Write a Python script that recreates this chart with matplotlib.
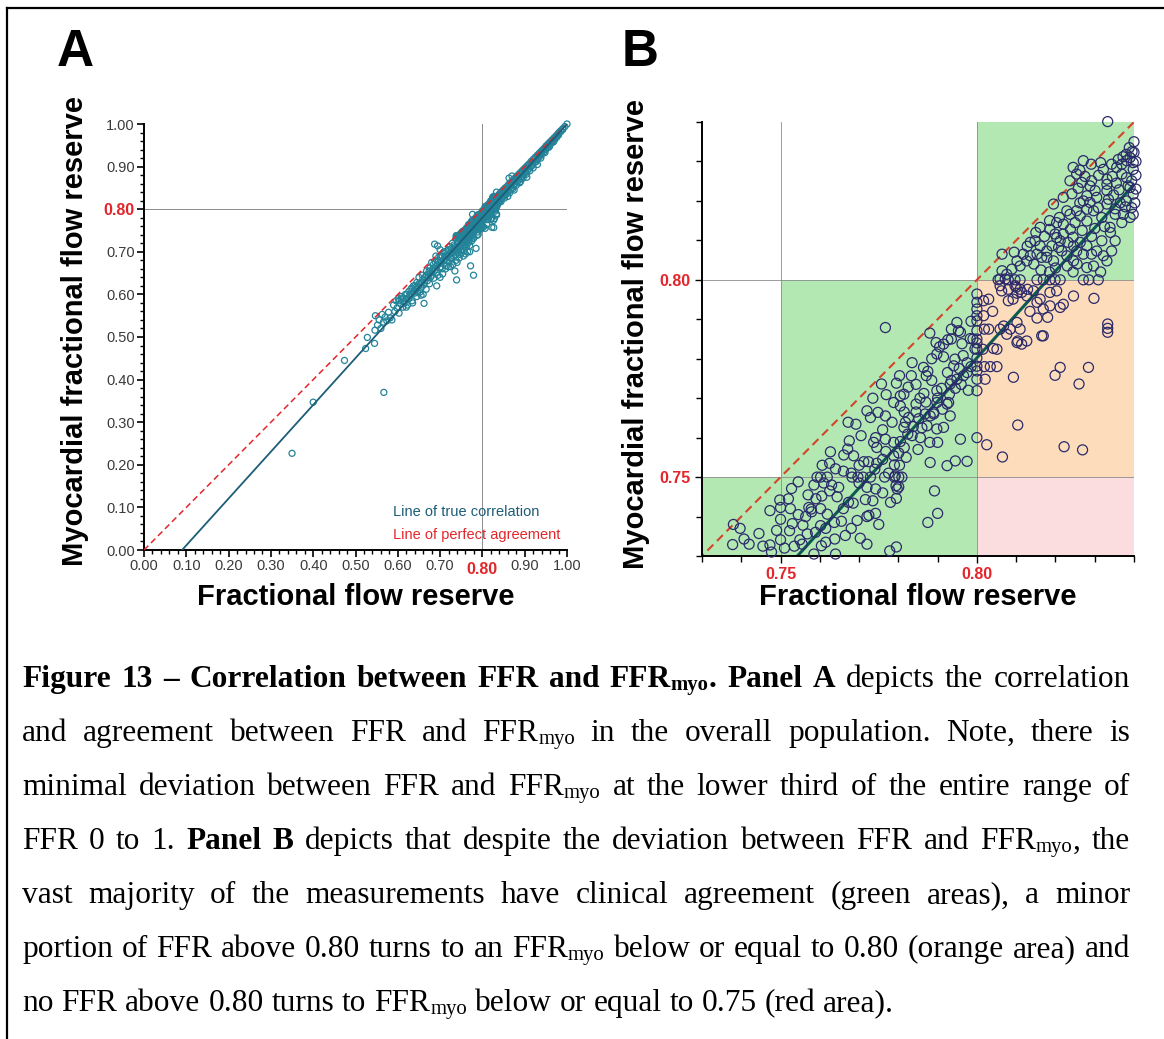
import matplotlib
matplotlib.use("Agg")
import matplotlib.pyplot as plt
from matplotlib.lines import Line2D
from matplotlib.patches import Rectangle
from matplotlib.ticker import FixedLocator, MultipleLocator, FuncFormatter

plt.rcParams["font.family"] = ["Liberation Sans", "DejaVu Sans"]

# ---- data (FFR, FFRmyo) ----
CUTOFF_HI = 0.80
CUTOFF_LO = 0.75
ZOOM_RANGE = (0.73, 0.84)

ref_line = [0.0, 1.0]                 # line of perfect agreement
reg_x = [0.09, 1.0]                   # line of true correlation
reg_y = [0.0, 1.0]

# points inside the zoomed window (panel B, also in panel A)
pts_low = [
    (0.738, 0.738), (0.7397, 0.737), (0.7407, 0.7343), (0.7378, 0.7329), (0.7445, 0.7357),
    (0.7473, 0.7415), (0.7498, 0.7442), (0.7500, 0.7423), (0.7473, 0.7328), (0.7477, 0.7310),
    (0.7500, 0.7393), (0.7500, 0.7341), (0.7528, 0.7471), (0.7525, 0.7420), (0.7530, 0.7382),
    (0.7523, 0.7364), (0.7549, 0.7341), (0.7557, 0.7378), (0.7572, 0.7423), (0.7578, 0.7419),
    (0.7579, 0.7412), (0.7564, 0.7400), (0.7568, 0.7356), (0.7589, 0.7360), (0.7602, 0.7420),
    (0.7602, 0.7377), (0.7604, 0.7326), (0.7619, 0.7406), (0.7637, 0.7385), (0.7638, 0.7343),
    (0.7644, 0.7450), (0.7648, 0.7474), (0.7655, 0.7388), (0.7673, 0.7436), (0.7685, 0.7434),
    (0.7703, 0.7345), (0.7720, 0.7400), (0.7725, 0.7403), (0.7742, 0.7408), (0.7716, 0.7443),
    (0.7720, 0.7474), (0.7742, 0.7470), (0.7778, 0.7313), (0.7795, 0.7323), (0.7795, 0.7446),
    (0.7797, 0.7470), (0.7801, 0.7475), (0.7780, 0.7436), (0.7875, 0.7385), (0.7892, 0.7465),
    (0.7900, 0.7408), (0.7535, 0.7325), (0.7555, 0.7330), (0.7615, 0.7335), (0.7585, 0.7305),
    (0.7665, 0.7352), (0.7605, 0.7452), (0.7570, 0.7455), (0.7585, 0.7480), (0.7545, 0.7488),
    (0.7625, 0.7465), (0.7700, 0.7485), (0.7420, 0.7330), (0.7455, 0.7325), (0.7510, 0.7320),
    (0.7520, 0.7445), (0.7490, 0.7365), (0.7545, 0.7405), (0.7590, 0.7445), (0.7615, 0.7370),
    (0.7660, 0.7420), (0.7695, 0.7390), (0.7680, 0.7370), (0.7735, 0.7440), (0.7640, 0.7305),
    (0.7720, 0.7330), (0.7750, 0.7380), (0.7760, 0.7460),
]
row_075_x = [0.7593, 0.7602, 0.7619, 0.7682, 0.7697, 0.7710, 0.7729, 0.7765, 0.7790, 0.7801, 0.7809]
pts_mid = [
    (0.7627, 0.7564), (0.7671, 0.7571), (0.7661, 0.7556), (0.7686, 0.7554), (0.7625, 0.7535),
    (0.7640, 0.7521), (0.7606, 0.7530), (0.7675, 0.7592), (0.7712, 0.7539), (0.7724, 0.7539),
    (0.7737, 0.7588), (0.7742, 0.7600), (0.7767, 0.7596), (0.7748, 0.7664), (0.7720, 0.7668),
    (0.7729, 0.7651), (0.7767, 0.7655), (0.7784, 0.7639), (0.7788, 0.7588), (0.7788, 0.7554),
    (0.7790, 0.7531), (0.7801, 0.7561), (0.7803, 0.7530), (0.7794, 0.7478), (0.7792, 0.7503),
    (0.7818, 0.7639), (0.7826, 0.7651), (0.7814, 0.7626), (0.7824, 0.7609), (0.7856, 0.7600),
    (0.7880, 0.7588), (0.7900, 0.7588), (0.7881, 0.7537), (0.7945, 0.7541), (0.7975, 0.7540),
    (0.7924, 0.7529), (0.7958, 0.7596), (0.7881, 0.7655), (0.7890, 0.7660), (0.7672, 0.7639),
    (0.7692, 0.7634), (0.7768, 0.7565), (0.7745, 0.7535), (0.7705, 0.7605), (0.7835, 0.7605),
    (0.7860, 0.7625), (0.7845, 0.7665), (0.7850, 0.7570), (0.7815, 0.7575), (0.7898, 0.7622),
    (0.7915, 0.7626), (0.7932, 0.7655), (0.7740, 0.7520), (0.7760, 0.7545), (0.7775, 0.7510),
    (0.7805, 0.7590), (0.7820, 0.7550), (0.7838, 0.7628), (0.7852, 0.7648), (0.7868, 0.7660),
    (0.7873, 0.7630), (0.7912, 0.7672), (0.7760, 0.7620), (0.7745, 0.7575), (0.7700, 0.7530),
    (0.7680, 0.7510), (0.7660, 0.7515), (0.7630, 0.7480), (0.7610, 0.7485),
]
pts_upper = [
    (0.7924, 0.7685), (0.7898, 0.7689), (0.7757, 0.7736), (0.7769, 0.7709), (0.7788, 0.7689),
    (0.7805, 0.7706), (0.7814, 0.7710), (0.7803, 0.7757), (0.7833, 0.7757), (0.7835, 0.7790),
    (0.7864, 0.7778), (0.7875, 0.7768), (0.7871, 0.7757), (0.7880, 0.7865), (0.7896, 0.7841),
    (0.7898, 0.7812), (0.7898, 0.7719), (0.7926, 0.7848), (0.7935, 0.7850), (0.7941, 0.7782),
    (0.7944, 0.7799), (0.7949, 0.7892), (0.7953, 0.7871), (0.7983, 0.7851), (0.7767, 0.7879),
    (0.7845, 0.7735), (0.7855, 0.7700), (0.7885, 0.7745), (0.7910, 0.7725), (0.7925, 0.7765),
    (0.7935, 0.7745), (0.7955, 0.7775), (0.7965, 0.7808), (0.7975, 0.7765), (0.7915, 0.7805),
    (0.7905, 0.7830), (0.7935, 0.7875), (0.7962, 0.7838), (0.7985, 0.7895), (0.7885, 0.7800),
    (0.7825, 0.7728), (0.7795, 0.7738), (0.7735, 0.7700), (0.7865, 0.7712), (0.7995, 0.7825),
    (0.7958, 0.7867), (0.7915, 0.7837), (0.7890, 0.7664), (0.7928, 0.7689), (0.7932, 0.7736),
    (0.7949, 0.7748), (0.7966, 0.7757), (0.7900, 0.7700), (0.7930, 0.7710), (0.7945, 0.7725),
    (0.7960, 0.7735), (0.7975, 0.7790), (0.7985, 0.7780), (0.7978, 0.7720), (0.7990, 0.7850),
    (0.7870, 0.7690), (0.7845, 0.7685), (0.7815, 0.7665), (0.7805, 0.7680),
]
stack_080_y = [0.7964, 0.7943, 0.7926, 0.7909, 0.7896, 0.7871, 0.7850, 0.7840, 0.7824,
               0.7802, 0.7781, 0.7769, 0.7748, 0.7719, 0.7600]
pts_orange = [
    (0.8017, 0.7947), (0.8030, 0.7951), (0.8019, 0.7875), (0.8030, 0.7875), (0.8015, 0.7824),
    (0.8019, 0.7780), (0.8034, 0.7780), (0.8051, 0.7780), (0.8021, 0.7748), (0.8042, 0.7826),
    (0.8059, 0.7985), (0.8063, 0.7972), (0.8092, 0.7951), (0.8097, 0.7985), (0.8102, 0.7966),
    (0.8110, 0.7976), (0.8129, 0.7976), (0.8068, 0.7883), (0.8085, 0.7875), (0.8102, 0.7892),
    (0.8110, 0.7875), (0.8153, 0.7903), (0.8165, 0.7858), (0.8102, 0.7841), (0.8114, 0.7837),
    (0.8161, 0.7951), (0.8169, 0.7926), (0.8212, 0.7930), (0.8246, 0.7959), (0.8298, 0.7953),
    (0.8212, 0.7778), (0.8199, 0.7758), (0.8284, 0.7778), (0.8260, 0.7736), (0.8093, 0.7753),
    (0.8104, 0.7632), (0.8222, 0.7577), (0.8269, 0.7569), (0.8065, 0.7551), (0.8025, 0.7582),
    (0.8333, 0.7888), (0.8333, 0.7877), (0.8333, 0.7867), (0.8080, 0.7947), (0.8127, 0.7959),
    (0.8153, 0.7943), (0.8186, 0.7934), (0.8220, 0.7938), (0.8059, 0.7875), (0.8076, 0.7862),
    (0.8169, 0.7858), (0.8051, 0.7824), (0.8127, 0.7845), (0.8104, 0.7845), (0.8080, 0.7976),
    (0.8100, 0.7981), (0.8114, 0.7968), (0.8144, 0.7972), (0.8186, 0.7968), (0.8203, 0.7972),
    (0.8017, 0.7909), (0.8040, 0.7920), (0.8135, 0.7920), (0.8180, 0.7905),
]
row_080_x = [0.8054, 0.8080, 0.8097, 0.8110, 0.8153, 0.8169, 0.8186, 0.8199, 0.8212,
             0.8271, 0.8285, 0.8309]
pts_green_top = [
    (0.8333, 0.8401), (0.8400, 0.8350), (0.8388, 0.8335), (0.8400, 0.8323), (0.8380, 0.8318),
    (0.8390, 0.8310), (0.8381, 0.8302), (0.8398, 0.8297), (0.8369, 0.8293), (0.8398, 0.8280),
    (0.8291, 0.8293), (0.8315, 0.8297), (0.8343, 0.8293), (0.8356, 0.8285), (0.8369, 0.8268),
    (0.8381, 0.8259), (0.8394, 0.8251), (0.8390, 0.8234), (0.8398, 0.8217), (0.8381, 0.8200),
    (0.8394, 0.8183), (0.8398, 0.8166), (0.8373, 0.8166), (0.8369, 0.8145), (0.8390, 0.8158),
    (0.8331, 0.8255), (0.8331, 0.8242), (0.8331, 0.8226), (0.8335, 0.8204), (0.8331, 0.8192),
    (0.8292, 0.8251), (0.8288, 0.8238), (0.8301, 0.8226), (0.8305, 0.8209), (0.8288, 0.8196),
    (0.8280, 0.8213), (0.8267, 0.8247), (0.8271, 0.8200), (0.8280, 0.8179), (0.8297, 0.8175),
    (0.8309, 0.8183), (0.8254, 0.8175), (0.8263, 0.8162), (0.8280, 0.8149), (0.8250, 0.8145),
    (0.8237, 0.8166), (0.8229, 0.8175), (0.8220, 0.8141), (0.8203, 0.8145), (0.8220, 0.8116),
    (0.8203, 0.8107), (0.8186, 0.8128), (0.8199, 0.8116), (0.8212, 0.8099), (0.8208, 0.8082),
    (0.8191, 0.8086), (0.8178, 0.8073), (0.8161, 0.8133), (0.8136, 0.8095), (0.8148, 0.8099),
    (0.8161, 0.8086), (0.8153, 0.8065), (0.8136, 0.8061), (0.8127, 0.8048), (0.8110, 0.8035),
    (0.8102, 0.8048), (0.8089, 0.8027), (0.8076, 0.8014), (0.8064, 0.8023), (0.8059, 0.8002),
    (0.8072, 0.8002), (0.8165, 0.8057), (0.8178, 0.8057), (0.8195, 0.8048), (0.8216, 0.8073),
    (0.8229, 0.8061), (0.8246, 0.8086), (0.8263, 0.8095), (0.8280, 0.8086), (0.8292, 0.8065),
    (0.8305, 0.8073), (0.8280, 0.8031), (0.8297, 0.8035), (0.8322, 0.8061), (0.8331, 0.8048),
    (0.8352, 0.8099), (0.8343, 0.8073), (0.8318, 0.8099), (0.8254, 0.8073), (0.8271, 0.8065),
    (0.8246, 0.8048), (0.8064, 0.8065), (0.8339, 0.8133), (0.8352, 0.8166), (0.8271, 0.8302),
    (0.8254, 0.8268), (0.8237, 0.8251), (0.8220, 0.8209), (0.8195, 0.8192),
    (0.8245, 0.8285), (0.8262, 0.8278), (0.8275, 0.8262), (0.8258, 0.8232), (0.8242, 0.8218),
    (0.8262, 0.8195), (0.8310, 0.8265), (0.8322, 0.8280), (0.8345, 0.8262), (0.8355, 0.8245),
    (0.8362, 0.8228), (0.8348, 0.8215), (0.8365, 0.8195), (0.8352, 0.8180), (0.8378, 0.8185),
    (0.8385, 0.8238), (0.8372, 0.8312), (0.8360, 0.8305), (0.8395, 0.8325), (0.8405, 0.8300),
    (0.8405, 0.8265), (0.8405, 0.8230), (0.8402, 0.8195), (0.8318, 0.8158), (0.8325, 0.8135),
    (0.8340, 0.8120), (0.8300, 0.8130), (0.8292, 0.8110), (0.8268, 0.8125), (0.8245, 0.8108),
    (0.8232, 0.8095), (0.8238, 0.8128), (0.8210, 0.8158), (0.8185, 0.8150), (0.8172, 0.8110),
    (0.8150, 0.8120), (0.8128, 0.8085), (0.8118, 0.8065), (0.8095, 0.8070), (0.8145, 0.8040),
    (0.8163, 0.8025), (0.8185, 0.8020), (0.8200, 0.8030), (0.8230, 0.8035), (0.8255, 0.8040),
    (0.8315, 0.8020), (0.8245, 0.8020),
]

# points outside the zoomed window (panel A only)
pts_high = [
    (0.842, 0.838), (0.842, 0.831), (0.842, 0.822), (0.846, 0.842), (0.846, 0.834), (0.846, 0.826),
    (0.850, 0.846), (0.850, 0.838), (0.850, 0.830), (0.854, 0.850), (0.854, 0.843), (0.854, 0.833),
    (0.858, 0.853), (0.858, 0.847), (0.858, 0.839), (0.862, 0.858), (0.862, 0.851), (0.862, 0.842),
    (0.866, 0.862), (0.866, 0.856), (0.866, 0.847), (0.870, 0.866), (0.870, 0.860), (0.870, 0.851),
    (0.874, 0.870), (0.874, 0.864), (0.874, 0.855), (0.878, 0.874), (0.878, 0.869), (0.878, 0.860),
    (0.882, 0.878), (0.882, 0.873), (0.882, 0.864), (0.886, 0.882), (0.886, 0.877), (0.886, 0.868),
    (0.890, 0.886), (0.890, 0.881), (0.890, 0.872), (0.894, 0.890), (0.894, 0.886), (0.894, 0.877),
    (0.898, 0.894), (0.898, 0.890), (0.898, 0.881), (0.902, 0.898), (0.902, 0.894), (0.902, 0.886),
    (0.906, 0.902), (0.906, 0.899), (0.906, 0.890), (0.910, 0.906), (0.910, 0.903), (0.910, 0.895),
    (0.915, 0.912), (0.915, 0.908), (0.915, 0.900), (0.920, 0.917), (0.920, 0.913), (0.920, 0.906),
    (0.925, 0.922), (0.925, 0.919), (0.925, 0.911), (0.930, 0.927), (0.930, 0.924), (0.930, 0.917),
    (0.935, 0.932), (0.935, 0.929), (0.935, 0.923), (0.940, 0.937), (0.940, 0.934), (0.940, 0.928),
    (0.945, 0.942), (0.945, 0.940), (0.945, 0.934), (0.950, 0.948), (0.950, 0.945), (0.950, 0.940),
    (0.955, 0.953), (0.955, 0.950), (0.955, 0.945), (0.960, 0.958), (0.960, 0.955), (0.960, 0.951),
    (0.965, 0.963), (0.965, 0.961), (0.965, 0.957), (0.970, 0.968), (0.970, 0.966), (0.970, 0.962),
    (0.975, 0.973), (0.975, 0.972), (0.975, 0.968), (0.980, 0.979), (0.980, 0.977), (0.980, 0.974),
    (0.985, 0.984), (0.985, 0.982), (0.990, 0.989), (0.990, 0.987), (0.995, 0.994), (1.000, 1.000),
    (0.860, 0.830), (0.875, 0.845), (0.890, 0.865), (0.905, 0.875), (0.920, 0.897), (0.930, 0.905),
    (0.863, 0.873), (0.870, 0.878), (0.844, 0.818), (0.852, 0.826), (0.856, 0.836), (0.864, 0.838),
    (0.872, 0.848), (0.880, 0.856), (0.888, 0.862), (0.896, 0.873), (0.904, 0.882), (0.912, 0.890),
    (0.918, 0.903), (0.928, 0.912), (0.938, 0.920), (0.948, 0.933), (0.958, 0.946), (0.968, 0.958),
]
pts_lowrange = [
    (0.350, 0.227), (0.400, 0.347), (0.474, 0.445), (0.524, 0.473), (0.528, 0.499), (0.545, 0.485),
    (0.546, 0.516), (0.567, 0.370), (0.547, 0.550), (0.552, 0.528), (0.556, 0.540), (0.560, 0.520),
    (0.563, 0.553), (0.566, 0.535), (0.570, 0.547), (0.574, 0.538), (0.578, 0.558), (0.582, 0.545),
    (0.586, 0.540), (0.590, 0.575), (0.593, 0.560), (0.596, 0.585), (0.598, 0.568), (0.601, 0.590),
    (0.603, 0.556), (0.606, 0.578), (0.609, 0.595), (0.612, 0.570), (0.615, 0.583), (0.618, 0.600),
    (0.620, 0.590), (0.623, 0.575), (0.626, 0.607), (0.628, 0.596), (0.631, 0.612), (0.634, 0.585),
    (0.637, 0.620), (0.640, 0.603), (0.642, 0.612), (0.645, 0.628), (0.648, 0.618), (0.650, 0.640),
    (0.653, 0.606), (0.656, 0.627), (0.658, 0.645), (0.661, 0.622), (0.662, 0.579), (0.665, 0.640),
    (0.668, 0.655), (0.670, 0.632), (0.673, 0.648), (0.676, 0.662), (0.678, 0.641), (0.681, 0.655),
    (0.684, 0.670), (0.687, 0.718), (0.690, 0.665), (0.692, 0.620), (0.694, 0.714), (0.696, 0.680),
    (0.699, 0.662), (0.701, 0.690), (0.704, 0.676), (0.706, 0.648), (0.708, 0.697), (0.711, 0.682),
    (0.713, 0.660), (0.716, 0.702), (0.718, 0.690), (0.721, 0.676), (0.723, 0.712), (0.726, 0.698),
    (0.728, 0.684), (0.729, 0.720), (0.733, 0.716), (0.736, 0.702), (0.739, 0.634), (0.741, 0.718),
    (0.744, 0.708), (0.747, 0.694), (0.750, 0.724), (0.753, 0.714), (0.757, 0.703), (0.760, 0.727),
    (0.764, 0.718), (0.772, 0.667), (0.779, 0.645), (0.785, 0.708), (0.768, 0.722), (0.775, 0.726),
    (0.732, 0.690), (0.738, 0.680), (0.745, 0.685), (0.700, 0.640), (0.715, 0.667), (0.725, 0.665),
    (0.735, 0.655), (0.755, 0.690), (0.765, 0.700),
    (0.731, 0.705), (0.734, 0.712), (0.737, 0.709), (0.740, 0.704), (0.743, 0.722), (0.746, 0.715),
    (0.749, 0.712), (0.752, 0.704), (0.755, 0.722), (0.758, 0.716), (0.742, 0.697), (0.748, 0.703),
    (0.751, 0.698), (0.736, 0.693), (0.730, 0.698), (0.762, 0.712), (0.766, 0.726), (0.770, 0.715),
    (0.652, 0.625), (0.655, 0.615), (0.659, 0.635), (0.663, 0.628), (0.667, 0.645), (0.671, 0.640),
    (0.674, 0.655), (0.677, 0.650), (0.680, 0.645), (0.683, 0.660), (0.686, 0.655), (0.689, 0.675),
    (0.691, 0.652), (0.694, 0.670), (0.697, 0.688), (0.700, 0.675), (0.702, 0.665), (0.705, 0.690),
    (0.708, 0.680), (0.710, 0.700), (0.713, 0.690), (0.716, 0.680), (0.719, 0.705), (0.722, 0.695),
    (0.724, 0.685), (0.727, 0.708), (0.660, 0.600), (0.667, 0.612), (0.675, 0.625), (0.685, 0.638),
    (0.695, 0.645), (0.705, 0.660), (0.720, 0.665), (0.730, 0.670), (0.740, 0.675), (0.760, 0.695),
    (0.770, 0.700), (0.700, 0.705), (0.690, 0.690), (0.680, 0.675), (0.603, 0.585), (0.608, 0.588),
    (0.612, 0.592), (0.617, 0.580), (0.621, 0.600), (0.626, 0.590), (0.630, 0.600), (0.633, 0.615),
    (0.637, 0.605), (0.641, 0.620), (0.644, 0.612), (0.647, 0.605), (0.650, 0.625), (0.620, 0.570),
    (0.635, 0.580), (0.645, 0.595), (0.655, 0.598),
]

x_ticks_a = [0.0, 0.1, 0.2, 0.3, 0.4, 0.5, 0.6, 0.7, 0.8, 0.9, 1.0]
b_ticks = [0.75, 0.80]

CAPTION_LINES = [
    [("Figure 13 – Correlation between FFR and FFR", "b"), ("myo", "bs"), (". Panel A", "b"),
     (" depicts the correlation", "r")],
    [("and agreement between FFR and FFR", "r"), ("myo", "s"), (" in the overall population. Note, there is", "r")],
    [("minimal deviation between FFR and FFR", "r"), ("myo", "s"), (" at the lower third of the entire range of", "r")],
    [("FFR 0 to 1. ", "r"), ("Panel B", "b"), (" depicts that despite the deviation between FFR and FFR", "r"),
     ("myo", "s"), (", the", "r")],
    [("vast majority of the measurements have clinical agreement (green areas), a minor", "r")],
    [("portion of FFR above 0.80 turns to an FFR", "r"), ("myo", "s"), (" below or equal to 0.80 (orange area) and", "r")],
    [("no FFR above 0.80 turns to FFR", "r"), ("myo", "s"), (" below or equal to 0.75 (red area).", "r")],
]

RED = "#e3262b"
TEAL = "#238499"
TEAL_LINE = "#1c5d78"
NAVY = "#2b2a6a"
GREEN_LINE = "#0d5a52"
GREEN = "#b3e8b3"
ORANGE = "#fcdcbb"
PINK = "#fbdde0"
GRID = "#8c8c8c"

W, H = 1164, 1039


def box(left, top, right, bottom):
    return [left / W, 1 - bottom / H, (right - left) / W, (bottom - top) / H]


def window_points():
    pts = pts_low + pts_mid + pts_upper + pts_orange + pts_green_top
    pts += [(x, CUTOFF_LO) for x in row_075_x]
    pts += [(CUTOFF_HI, y) for y in stack_080_y]
    pts += [(x, CUTOFF_HI) for x in row_080_x]
    xs, ys = zip(*pts)
    return list(xs), list(ys)


def panel_a(ax, wx, wy):
    ox, oy = zip(*(pts_high + pts_lowrange))
    ax.scatter(list(ox) + wx, list(oy) + wy, s=19, facecolors="none", edgecolors=TEAL,
               linewidths=0.9, clip_on=False, zorder=2)
    ax.axvline(CUTOFF_HI, color=GRID, lw=0.7, zorder=1)
    ax.axhline(CUTOFF_HI, color=GRID, lw=0.7, zorder=1)
    ax.plot(ref_line, ref_line, color=RED, lw=1.1, ls=(0, (4, 2.5)), zorder=3)
    ax.plot(reg_x, reg_y, color=TEAL_LINE, lw=1.3, zorder=3)
    ax.set_xlim(0, 1)
    ax.set_ylim(0, 1)
    for side in ("top", "right"):
        ax.spines[side].set_visible(False)
    for side in ("left", "bottom"):
        ax.spines[side].set_linewidth(1.4)
    ax.xaxis.set_major_locator(FixedLocator(x_ticks_a))
    ax.yaxis.set_major_locator(FixedLocator(x_ticks_a))
    ax.xaxis.set_minor_locator(MultipleLocator(0.02))
    ax.yaxis.set_minor_locator(MultipleLocator(0.02))
    ax.xaxis.set_major_formatter(FuncFormatter(lambda v, _: "" if abs(v - CUTOFF_HI) < 1e-9 else f"{v:.2f}"))
    ax.yaxis.set_major_formatter(FuncFormatter(lambda v, _: f"{v:.2f}"))
    ax.tick_params(which="major", direction="out", length=5, width=1.2, labelsize=10.5,
                   labelcolor="#3a3a3a", pad=1.5)
    ax.tick_params(which="minor", direction="out", length=3, width=1.0)
    for tick, v in zip(ax.yaxis.get_major_ticks(), x_ticks_a):
        if abs(v - CUTOFF_HI) < 1e-9:
            tick.label1.set_color(RED)
            tick.label1.set_fontweight("bold")
            tick.label1.set_fontsize(11.5)
    ax.text(CUTOFF_HI, -0.027, "0.80", transform=ax.get_xaxis_transform(), color=RED,
            fontsize=11.5, fontweight="bold", ha="center", va="top")
    ax.text(0.589, 0.089, "Line of true correlation", transform=ax.transAxes, color=TEAL_LINE,
            fontsize=10.5, va="center")
    ax.text(0.589, 0.035, "Line of perfect agreement", transform=ax.transAxes, color=RED,
            fontsize=10.5, va="center")
    ax.set_xlabel("Fractional flow reserve", fontsize=21, fontweight="bold", va="center")
    ax.xaxis.set_label_coords(0.5, -0.11)
    ax.set_ylabel("Myocardial fractional flow reserve", fontsize=21, fontweight="bold", va="center")
    ax.yaxis.set_label_coords(-0.163, 0.514)


def panel_b(ax, wx, wy):
    lo, hi = ZOOM_RANGE
    zones = [
        (lo, CUTOFF_LO, lo, CUTOFF_LO, GREEN),
        (CUTOFF_LO, CUTOFF_HI, lo, CUTOFF_HI, GREEN),
        (CUTOFF_HI, hi, CUTOFF_HI, hi, GREEN),
        (CUTOFF_HI, hi, CUTOFF_LO, CUTOFF_HI, ORANGE),
        (CUTOFF_HI, hi, lo, CUTOFF_LO, PINK),
    ]
    for x0, x1, y0, y1, c in zones:
        ax.add_patch(Rectangle((x0, y0), x1 - x0, y1 - y0, facecolor=c, edgecolor="none", zorder=0))
    for v in b_ticks:
        ax.axvline(v, color=GRID, lw=0.6, zorder=1)
        ax.axhline(v, color=GRID, lw=0.6, zorder=1)
    ax.plot(ref_line, ref_line, color="#d2452b", lw=1.5, ls=(0, (4, 2.5)), zorder=2)
    ax.plot(reg_x, reg_y, color=GREEN_LINE, lw=2.2, zorder=2)
    ax.scatter(wx, wy, s=52, facecolors="none", edgecolors=NAVY, linewidths=0.9,
               clip_on=False, zorder=3)
    ax.set_xlim(lo, hi)
    ax.set_ylim(lo, hi)
    for side in ("top", "right"):
        ax.spines[side].set_visible(False)
    for side in ("left", "bottom"):
        ax.spines[side].set_linewidth(1.4)
    for axis in (ax.xaxis, ax.yaxis):
        axis.set_major_locator(FixedLocator(b_ticks))
        axis.set_minor_locator(MultipleLocator(0.01))
        axis.set_major_formatter(FuncFormatter(lambda v, _: f"{v:.2f}"))
    ax.tick_params(which="major", direction="out", length=5, width=1.0, labelsize=11.5,
                   labelcolor=RED, pad=3)
    ax.tick_params(which="minor", direction="out", length=4, width=1.0)
    for lab in ax.get_xticklabels() + ax.get_yticklabels():
        lab.set_fontweight("bold")
    ax.set_xlabel("Fractional flow reserve", fontsize=21, fontweight="bold", va="center")
    ax.xaxis.set_label_coords(0.5, -0.095)
    ax.set_ylabel("Myocardial fractional flow reserve", fontsize=21, fontweight="bold", va="center")
    ax.yaxis.set_label_coords(-0.153, 0.511)


def split_words(tokens):
    words = [[]]
    for text, style in tokens:
        for i, part in enumerate(text.split(" ")):
            if i > 0:
                words.append([])
            if part:
                words[-1].append((part, style))
    return [w for w in words if w]


def draw_caption(fig, left=22, right=1130, first_base=687, step=54, last_width=870):
    renderer = fig.canvas.get_renderer()

    def props(style, size):
        return dict(family="Liberation Serif", fontsize=size * (0.66 if "s" in style else 1.0),
                    fontweight="bold" if "b" in style else "normal")

    def measure(text, style, size):
        t = fig.text(0, 0, text, **props(style, size))
        w = t.get_window_extent(renderer).width
        t.remove()
        return w

    def word_w(word, size):
        return sum(measure(t, s, size) for t, s in word)

    def space_w(size):
        return measure("n n", "r", size) - measure("nn", "r", size)

    lines = [split_words(tokens) for tokens in CAPTION_LINES]
    base = 20.0
    nat = sum(word_w(w, base) for w in lines[-1]) + space_w(base) * (len(lines[-1]) - 1)
    size = base * last_width / nat
    sp = space_w(size)
    for i, words in enumerate(lines):
        widths = [word_w(w, size) for w in words]
        if i < len(lines) - 1:
            gap = (right - left - sum(widths)) / (len(words) - 1)
        else:
            gap = sp
        y = first_base + step * i
        x = left
        for word, ww in zip(words, widths):
            px = x
            for text, style in word:
                dy = 0.11 * size * 100 / 72 if "s" in style else 0
                fig.text(px / W, 1 - (y + dy) / H, text, va="baseline", ha="left", **props(style, size))
                px += measure(text, style, size)
            x += ww + gap


def main():
    fig = plt.figure(figsize=(W / 100, H / 100), dpi=100)
    wx, wy = window_points()

    ax_a = fig.add_axes(box(144, 124, 567, 550))
    ax_b = fig.add_axes(box(702, 122, 1134, 556))
    panel_a(ax_a, wx, wy)
    panel_b(ax_b, wx, wy)

    fig.text(75 / W, 1 - 53 / H, "A", fontsize=37, fontweight="bold", ha="center", va="center")
    fig.text(640 / W, 1 - 53 / H, "B", fontsize=37, fontweight="bold", ha="center", va="center")

    # frame around the figure (left and top edges)
    fig.add_artist(Line2D([6.5 / W, 6.5 / W], [0, 1 - 8 / H], color="black", lw=1.6))
    fig.add_artist(Line2D([6.5 / W, 1], [1 - 8 / H, 1 - 8 / H], color="black", lw=1.6))

    draw_caption(fig)
    fig.savefig("out.png", dpi=100)
    plt.close(fig)


if __name__ == "__main__":
    main()
